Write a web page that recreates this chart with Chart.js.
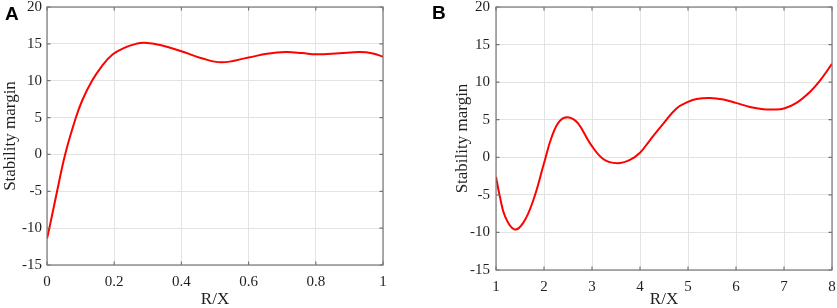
<!DOCTYPE html>
<html><head><meta charset="utf-8">
<script src="https://cdn.jsdelivr.net/npm/chart.js@4.4.0/dist/chart.umd.min.js"></script>
<style>
html,body{margin:0;padding:0;background:#fff;}
#wrap{position:relative;width:837px;height:308px;overflow:hidden;background:#fff;}
canvas{position:absolute;top:0;}
.lbl{position:absolute;font:bold 19px "Liberation Sans",Arial,sans-serif;line-height:19px;color:#000;}
</style></head><body>
<div id="wrap">
<canvas id="cA" width="400" height="308" style="left:0"></canvas>
<canvas id="cB" width="417" height="308" style="left:420px"></canvas>
<div class="lbl" style="left:5px;top:4px">A</div>
<div class="lbl" style="left:432px;top:3px">B</div>
</div>
<script>
// Panel A data
const xA = [0, 0.007, 0.03, 0.054, 0.086, 0.106, 0.134, 0.163, 0.195, 0.23, 0.265, 0.29, 0.34, 0.4, 0.46, 0.52, 0.6, 0.655, 0.71, 0.76, 0.80, 0.87, 0.93, 0.97, 1.0];
const yA = [-11.4, -10, -5, 0, 5, 7.45, 10, 11.96, 13.55, 14.45, 15.0, 15.15, 14.8, 14.0, 13.05, 12.5, 13.15, 13.65, 13.88, 13.75, 13.58, 13.72, 13.88, 13.7, 13.25];
// Panel B data
const xB = [1, 1.08, 1.19, 1.38, 1.57, 1.78, 2.0, 2.16, 2.33, 2.52, 2.71, 2.96, 3.24, 3.53, 3.79, 4.0, 4.21, 4.49, 4.76, 5.0, 5.18, 5.46, 5.74, 6.0, 6.29, 6.57, 6.78, 7.0, 7.26, 7.54, 7.75, 8.0];
const yB = [-2.6, -5.2, -7.9, -9.6, -8.7, -5.65, -0.8, 2.7, 4.85, 5.3, 4.5, 1.85, -0.27, -0.8, -0.35, 0.6, 2.3, 4.5, 6.5, 7.37, 7.77, 7.9, 7.68, 7.24, 6.7, 6.4, 6.36, 6.5, 7.24, 8.7, 10.2, 12.45];
// Tick labels
const xTicksA = [0, 0.2, 0.4, 0.6, 0.8, 1];
const xTickLabelsA = ['0', '0.2', '0.4', '0.6', '0.8', '1'];
const xTicksB = [1, 2, 3, 4, 5, 6, 7, 8];
const xTickLabelsB = ['1', '2', '3', '4', '5', '6', '7', '8'];
const yTicks = [-15, -10, -5, 0, 5, 10, 15, 20];
const yTickLabels = ['-15', '-10', '-5', '0', '5', '10', '15', '20'];

const SERIF = '"Liberation Serif","Times New Roman",serif';
const TXT = '#1f1f1f';

const framePlugin = {
  id: 'frame',
  afterDraw(chart) {
    const {ctx, chartArea: a, scales} = chart;
    ctx.save();
    ctx.strokeStyle = '#777';
    ctx.lineWidth = 1.2;
    ctx.strokeRect(a.left, a.top, a.right - a.left, a.bottom - a.top);
    ctx.beginPath();
    const tl = 3.5;
    scales.x.ticks.forEach(t => {
      const p = scales.x.getPixelForValue(t.value);
      ctx.moveTo(p, a.bottom); ctx.lineTo(p, a.bottom - tl);
      ctx.moveTo(p, a.top); ctx.lineTo(p, a.top + tl);
    });
    scales.y.ticks.forEach(t => {
      const p = scales.y.getPixelForValue(t.value);
      ctx.moveTo(a.left, p); ctx.lineTo(a.left + tl, p);
      ctx.moveTo(a.right, p); ctx.lineTo(a.right - tl, p);
    });
    ctx.stroke();
    ctx.restore();
  }
};

function makeChart(id, xs, ys, xTicks, xLabels, opt) {
  return new Chart(document.getElementById(id), {
    type: 'line',
    data: {
      datasets: [{
        data: xs.map((x, i) => ({x: x, y: ys[i]})),
        borderColor: '#ff0000',
        borderWidth: 2,
        pointRadius: 0,
        fill: false,
        tension: 0.4
      }]
    },
    options: {
      responsive: false,
      animation: false,
      events: [],
      layout: {padding: {left: opt.padLeft, right: opt.padRight, top: 7, bottom: 0}},
      plugins: {legend: {display: false}, tooltip: {enabled: false}},
      scales: {
        x: {
          type: 'linear',
          min: xTicks[0], max: xTicks[xTicks.length - 1],
          afterBuildTicks: s => { s.ticks = xTicks.map(v => ({value: v})); },
          ticks: {
            autoSkip: false, maxRotation: 0, padding: 8,
            font: {family: SERIF, size: 15}, color: TXT,
            callback: (v, i) => xLabels[i]
          },
          title: {display: true, text: 'R/X', font: {family: SERIF, size: 17}, color: TXT, padding: {top: 0, bottom: -2}},
          grid: {color: '#e3e3e3', drawTicks: false, lineWidth: 1},
          border: {display: false},
          afterFit: s => { s.height = opt.xHeight; s.paddingLeft = 0; s.paddingRight = 0; }
        },
        y: {
          type: 'linear',
          min: -15, max: 20,
          afterBuildTicks: s => { s.ticks = yTicks.map(v => ({value: v})); },
          ticks: {
            autoSkip: false, padding: opt.yPad,
            font: {family: SERIF, size: 15}, color: TXT,
            callback: (v, i) => yTickLabels[i]
          },
          title: {display: true, text: 'Stability margin', font: {family: SERIF, size: 17}, color: TXT, padding: 0},
          grid: {color: '#e3e3e3', drawTicks: false, lineWidth: 1},
          border: {display: false},
          afterFit: s => { s.width = opt.yWidth; s.paddingTop = 0; s.paddingBottom = 0; }
        }
      }
    },
    plugins: [framePlugin]
  });
}

makeChart('cA', xA, yA, xTicksA, xTickLabelsA, {padLeft: 0, padRight: 17, yWidth: 47, xHeight: 43, yPad: 5});
makeChart('cB', xB, yB, xTicksB, xTickLabelsB, {padLeft: 32, padRight: 5, yWidth: 44, xHeight: 38, yPad: 6});
</script>
</body></html>
